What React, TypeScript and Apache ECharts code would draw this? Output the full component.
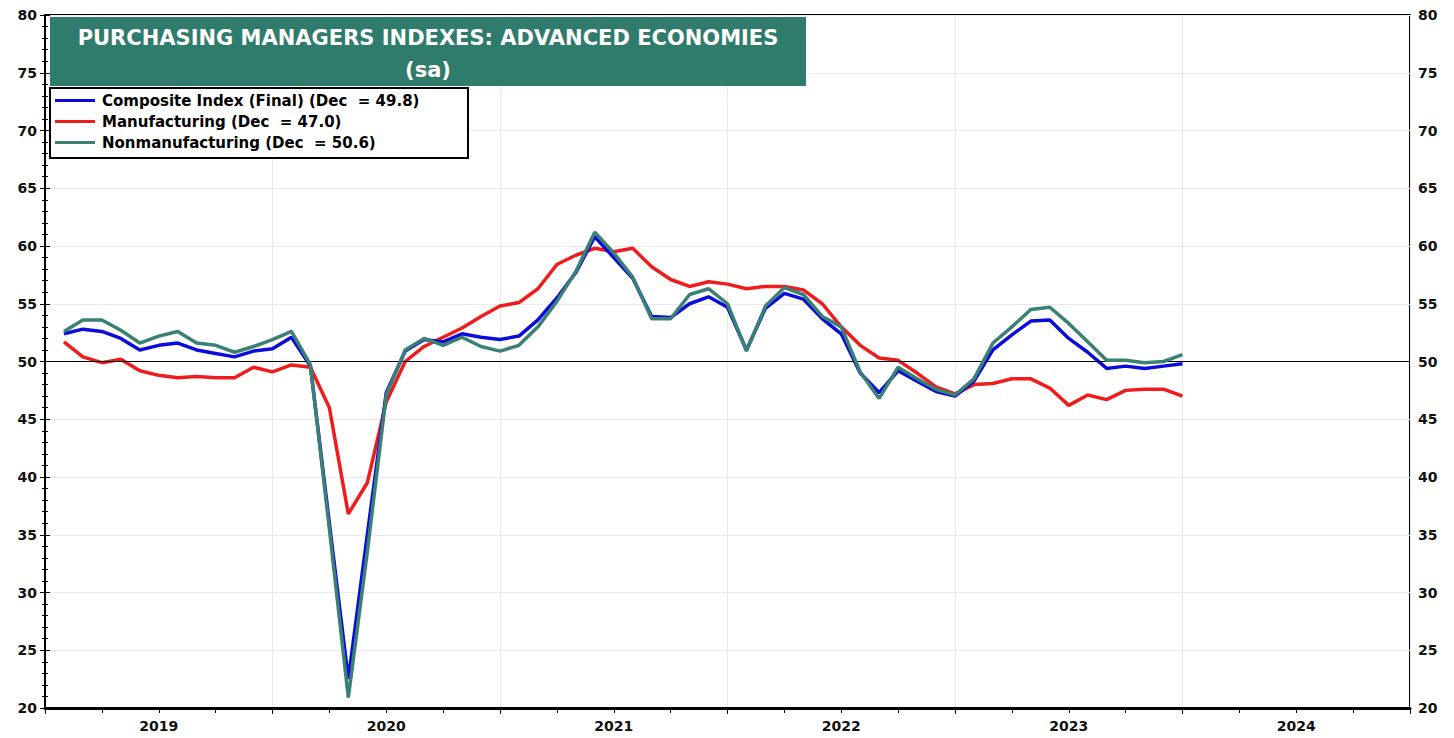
import React, { useEffect, useRef } from "react";
import * as echarts from "echarts";

const years = ["2019", "2020", "2021", "2022", "2023", "2024"];

// Monthly observations Jan 2019 .. Dec 2023
const months = [
  "2019-01","2019-02","2019-03","2019-04","2019-05","2019-06","2019-07","2019-08","2019-09","2019-10","2019-11","2019-12",
  "2020-01","2020-02","2020-03","2020-04","2020-05","2020-06","2020-07","2020-08","2020-09","2020-10","2020-11","2020-12",
  "2021-01","2021-02","2021-03","2021-04","2021-05","2021-06","2021-07","2021-08","2021-09","2021-10","2021-11","2021-12",
  "2022-01","2022-02","2022-03","2022-04","2022-05","2022-06","2022-07","2022-08","2022-09","2022-10","2022-11","2022-12",
  "2023-01","2023-02","2023-03","2023-04","2023-05","2023-06","2023-07","2023-08","2023-09","2023-10","2023-11","2023-12",
];

const composite = [
  52.4, 52.8, 52.6, 52.0, 51.0, 51.4, 51.6, 51.0, 50.7, 50.4, 50.9, 51.1,
  52.1, 49.6, 36.0, 22.5, 35.0, 47.3, 50.9, 51.9, 51.7, 52.4, 52.1, 51.9,
  52.2, 53.6, 55.5, 57.7, 60.8, 59.0, 57.2, 53.9, 53.8, 55.0, 55.6, 54.7,
  51.0, 54.6, 55.9, 55.4, 53.7, 52.4, 49.0, 47.3, 49.2, 48.3, 47.4, 47.0,
  48.3, 51.0, 52.3, 53.5, 53.6, 52.0, 50.8, 49.4, 49.6, 49.4, 49.6, 49.8,
];

const manufacturing = [
  51.7, 50.4, 49.9, 50.2, 49.2, 48.8, 48.6, 48.7, 48.6, 48.6, 49.5, 49.1,
  49.7, 49.5, 46.0, 36.8, 39.5, 46.5, 50.0, 51.3, 52.1, 52.9, 53.9, 54.8,
  55.1, 56.3, 58.4, 59.2, 59.8, 59.5, 59.8, 58.2, 57.1, 56.5, 56.9, 56.7,
  56.3, 56.5, 56.5, 56.2, 55.0, 53.0, 51.4, 50.3, 50.1, 49.0, 47.8, 47.2,
  48.0, 48.1, 48.5, 48.5, 47.7, 46.2, 47.1, 46.7, 47.5, 47.6, 47.6, 47.0,
];

const nonmanufacturing = [
  52.6, 53.6, 53.6, 52.7, 51.6, 52.2, 52.6, 51.6, 51.4, 50.8, 51.3, 51.9,
  52.6, 49.7, 35.5, 20.9, 33.5, 47.1, 51.0, 52.0, 51.4, 52.1, 51.3, 50.9,
  51.4, 53.0, 55.2, 57.8, 61.2, 59.4, 57.3, 53.7, 53.7, 55.8, 56.3, 55.0,
  50.9, 54.8, 56.4, 55.8, 53.9, 53.0, 49.1, 46.8, 49.5, 48.5, 47.6, 47.1,
  48.5, 51.6, 53.0, 54.5, 54.7, 53.3, 51.7, 50.1, 50.1, 49.9, 50.0, 50.6,
];

const seriesNames = [
  "Composite Index (Final) (Dec  = 49.8)",
  "Manufacturing (Dec  = 47.0)",
  "Nonmanufacturing (Dec  = 50.6)",
];

const titleLines = ["PURCHASING MANAGERS INDEXES: ADVANCED ECONOMIES", "(sa)"];

const FONT = '"DejaVu Sans", "Liberation Sans", Arial, sans-serif';

// month index (Jan 2019 = 0) plotted at end of month
const toPoints = (vals: number[]) => vals.map((v, i) => [months.indexOf(months[i]) + 1, v]);

export default function App() {
  const ref = useRef<HTMLDivElement>(null);

  useEffect(() => {
    if (!ref.current) return;
    const chart = echarts.init(ref.current, undefined, { renderer: "svg" });

    const yAxisBase = {
      type: "value",
      min: 20,
      max: 80,
      interval: 5,
      axisLine: { show: true, lineStyle: { color: "#000", width: 2 } },
      axisTick: { show: true, length: 5, inside: false, lineStyle: { color: "#000", width: 1 } },
      minorTick: { show: true, splitNumber: 5, length: 3, lineStyle: { color: "#000", width: 1 } },
      axisLabel: { color: "#111", fontFamily: FONT, fontWeight: "bold", fontSize: 14, margin: 8 },
    };

    chart.setOption({
      animation: false,
      backgroundColor: "#fff",
      grid: {
        left: 45,
        right: 44,
        top: 15,
        bottom: 30,
        show: true,
        borderColor: "#000",
        borderWidth: 2,
        backgroundColor: "transparent",
      },
      xAxis: [
        {
          type: "value",
          position: "bottom",
          min: 0,
          max: 72,
          interval: 12,
          axisLine: { show: true, onZero: false, lineStyle: { color: "#000", width: 3 } },
          axisTick: { show: true, length: 6, lineStyle: { color: "#000", width: 1 } },
          minorTick: { show: true, splitNumber: 4, length: 5, lineStyle: { color: "#000", width: 1 } },
          axisLabel: { show: false },
          splitLine: { show: true, lineStyle: { color: "#e9e9e9", width: 1 } },
        },
        {
          type: "value",
          position: "bottom",
          min: 0,
          max: 72,
          interval: 6,
          axisLine: { show: false, onZero: false },
          axisTick: { show: false },
          splitLine: { show: false },
          axisLabel: {
            show: true,
            margin: 11,
            color: "#111",
            fontFamily: FONT,
            fontWeight: "bold",
            fontSize: 14,
            formatter: (v: number) => (v % 12 === 6 ? years[(v - 6) / 12] : ""),
          },
        },
      ],
      yAxis: [
        {
          ...yAxisBase,
          position: "left",
          splitLine: { show: true, lineStyle: { color: "#e9e9e9", width: 1 } },
        },
        {
          ...yAxisBase,
          position: "right",
          splitLine: { show: false },
        },
      ],
      legend: {
        data: seriesNames,
        orient: "vertical",
        left: 55,
        top: 92,
        padding: 0,
        itemGap: 4,
        itemWidth: 40,
        itemHeight: 3,
        icon: "rect",
        z: 20,
        selectedMode: false,
        textStyle: { color: "#000", fontFamily: FONT, fontWeight: "bold", fontSize: 15, lineHeight: 17, padding: [0, 0, 0, 2] },
      },
      graphic: [
        {
          type: "rect",
          z: 10,
          shape: { x: 50, y: 17, width: 756, height: 69 },
          style: { fill: "#2f7b6c" },
        },
        {
          type: "text",
          z: 11,
          x: 428,
          y: 38,
          style: {
            text: titleLines[0],
            fill: "#fff",
            font: `bold 21px ${FONT}`,
            textAlign: "center",
            textVerticalAlign: "middle",
          },
        },
        {
          type: "text",
          z: 11,
          x: 428,
          y: 70,
          style: {
            text: titleLines[1],
            fill: "#fff",
            font: `bold 21px ${FONT}`,
            textAlign: "center",
            textVerticalAlign: "middle",
          },
        },
        {
          type: "rect",
          z: 10,
          shape: { x: 50, y: 88, width: 418, height: 70 },
          style: { fill: "#fff", stroke: "#000", lineWidth: 2 },
        },
      ],
      series: [
        {
          name: seriesNames[1],
          type: "line",
          xAxisIndex: 0,
          yAxisIndex: 0,
          data: toPoints(manufacturing),
          showSymbol: false,
          symbol: "none",
          itemStyle: { color: "#ee1c1c" },
          lineStyle: { color: "#ee1c1c", width: 3.5 },
          z: 3,
        },
        {
          name: seriesNames[0],
          type: "line",
          xAxisIndex: 0,
          yAxisIndex: 0,
          data: toPoints(composite),
          showSymbol: false,
          symbol: "none",
          itemStyle: { color: "#0b0bdc" },
          lineStyle: { color: "#0b0bdc", width: 3.5 },
          z: 4,
          markLine: {
            silent: true,
            symbol: "none",
            label: { show: false },
            lineStyle: { color: "#000", width: 1.2, type: "solid" },
            data: [{ yAxis: 50 }],
          },
        },
        {
          name: seriesNames[2],
          type: "line",
          xAxisIndex: 0,
          yAxisIndex: 0,
          data: toPoints(nonmanufacturing),
          showSymbol: false,
          symbol: "none",
          itemStyle: { color: "#3a8074" },
          lineStyle: { color: "#3a8074", width: 3.5 },
          z: 5,
        },
      ],
    });

    return () => chart.dispose();
  }, []);

  return (
    <div
      ref={ref}
      style={{ position: "absolute", left: 0, top: 0, width: 1454, height: 738 }}
    />
  );
}
